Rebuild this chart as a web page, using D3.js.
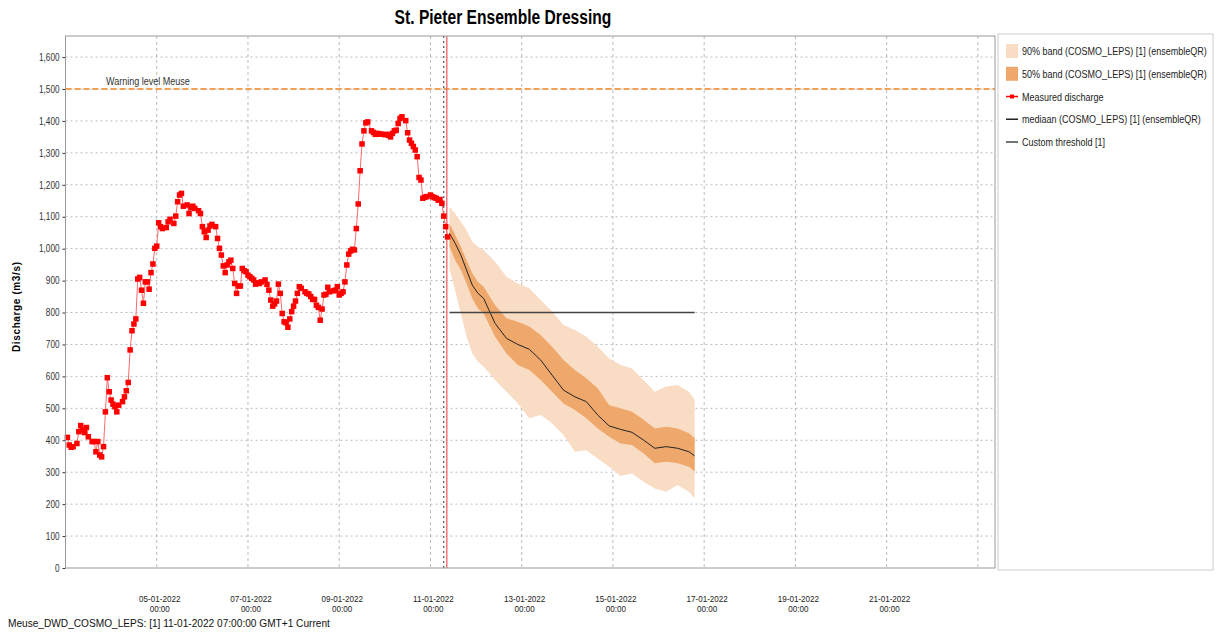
<!DOCTYPE html>
<html>
<head>
<meta charset="utf-8">
<title>St. Pieter Ensemble Dressing</title>
<script src="https://d3js.org/d3.v7.min.js"></script>
<style>
  body { margin: 0; background: #fff; }
  text { font-family: "Liberation Sans", Arial, sans-serif; }
</style>
</head>
<body>
<div id="chart"></div>
<script>

// hours after 03-01-2022 00:00
const measuredHours = [1,2,3,4,6,7,8,9,10,11,12,14,15,16,17,18,19,20,21,22,23,24,25,26,27,28,30,31,32,33,34,35,36,37,38,39,40,41,42,43,44,45,46,47,48,
  49,50,51,53,54,55,57,58,59,60,61,62,64,65,66,67,68,70,71,72,73,74,75,76,77,79,80,81,82,83,84,85,86,87,88,89,90,91,92,93,94,95,96,97,98,99,100,
  101,102,103,105,106,107,108,109,110,111,112,113,114,115,116,117,118,119,120,121,122,123,124,126,127,128,129,130,131,132,133,134,135,136,137,138,139,141,142,143,144,145,146,147,148,149,150,151,152,
  153,154,155,156,157,158,159,161,162,163,164,165,166,168,169,170,171,172,173,174,175,176,177,179,180,181,182,183,184,185,186,187,188,189,190,192,193,194,195,196,197,198,199,200,201];
const measuredValues = [409,385,378,380,390,427,446,432,424,440,411,396,396,364,396,354,348,380,489,596,552,526,513,505,489,510,521,536,555,581,683,743,764,780,905,910,870,829,896,896,873,925,952,1001,1008,
  1081,1069,1063,1066,1084,1092,1079,1102,1147,1168,1173,1133,1137,1110,1128,1133,1126,1119,1110,1069,1053,1035,1058,1071,1076,1069,1032,1001,980,946,925,949,959,964,938,891,860,883,883,938,931,928,917,912,907,902,889,
  893,891,896,902,888,870,839,820,827,836,889,860,797,771,768,754,780,803,820,836,860,881,876,865,860,858,850,841,841,823,816,776,811,855,857,879,865,868,870,881,855,860,865,896,949,983,993,998,996,
  1063,1140,1244,1328,1369,1394,1397,1369,1364,1358,1361,1359,1359,1357,1358,1355,1350,1361,1369,1371,1392,1408,1413,1401,1363,1340,1330,1320,1309,1288,1223,1215,1158,1161,1163,1168,1163,1160,1158,1152,1154,1142,1102,1069,1037];

const forecastHours = [202,205,208,211,214,217,220,226,232,238,244,250,256,262,268,274,280,286,292,298,304,310,316,322,328,331];
const median  = [1048,1017,980,933,886,860,844,766,719,700,685,651,604,557,536,521,479,445,434,425,401,375,380,375,364,351];
const band50Hi = [1079,1043,1006,964,923,896,881,823,782,771,756,730,693,651,620,594,563,510,500,489,465,437,442,437,422,406];
const band50Lo = [1006,964,933,891,844,813,797,724,672,636,620,589,552,515,495,469,437,411,390,385,359,328,333,328,317,302];
const band90Hi = [1131,1110,1084,1058,1022,1006,996,959,912,891,876,839,803,761,745,724,693,656,636,625,589,552,568,573,552,526];
const band90Lo = [938,870,797,724,672,646,630,589,552,515,469,479,453,416,364,369,343,317,288,296,270,249,239,260,239,218];

const yTicks = [0,100,200,300,400,500,600,700,800,900,1000,1100,1200,1300,1400,1500,1600];
const warningLevel = 1500;
const customThreshold = 800;
const forecastT0 = 199;     // 11-01-2022 07:00
const systemTime = 200.6;

const legendItems = [
  {label: "90% band (COSMO_LEPS) [1]  (ensembleQR)", type: "box", color: "#f9dcc4"},
  {label: "50% band (COSMO_LEPS) [1]  (ensembleQR)", type: "box", color: "#efa86c"},
  {label: "Measured discharge", type: "marker", color: "#ff0000"},
  {label: "mediaan (COSMO_LEPS) [1]  (ensembleQR)", type: "line", color: "#222"},
  {label: "Custom threshold [1]", type: "line", color: "#444"}
];

const width = 1219;
const height = 634;
const plotLeft = 65.5, plotRight = 995, plotTop = 36, plotBottom = 568;

const start = Date.UTC(2022, 0, 3);
const toDate = h => new Date(start + h * 3600e3);

// squeeze text horizontally, the original uses a narrow font
function narrow(sel, f) {
  sel.each(function() {
    var w = this.getComputedTextLength();
    d3.select(this).attr("textLength", w * f).attr("lengthAdjust", "spacingAndGlyphs");
  });
}

var svg = d3.select("#chart").append("svg").attr("width", width).attr("height", height);

var x = d3.scaleUtc().domain([toDate(0), new Date(Date.UTC(2022, 0, 23, 9))]).range([plotLeft, plotRight]);
var y = d3.scaleLinear().domain([0, 1666]).range([plotBottom, plotTop]);

// title
svg.append("text").attr("x", 503).attr("y", 24).attr("text-anchor", "middle")
  .style("font-size", "20px").style("font-weight", "bold").text("St. Pieter Ensemble Dressing")
  .call(narrow, 0.78);

// grid
var dayTicks = x.ticks(d3.utcDay.every(2));
svg.append("g").selectAll("line").data(yTicks.slice(1)).enter().append("line")
  .attr("x1", plotLeft).attr("x2", plotRight).attr("y1", d => y(d)).attr("y2", d => y(d))
  .attr("stroke", "#bbb").attr("stroke-dasharray", "2,3");
svg.append("g").selectAll("line").data(dayTicks.filter(d => x(d) > plotLeft + 1)).enter().append("line")
  .attr("x1", d => x(d)).attr("x2", d => x(d)).attr("y1", plotTop).attr("y2", plotBottom)
  .attr("stroke", "#bbb").attr("stroke-dasharray", "3,3");

// y axis
var yAxis = svg.append("g").attr("transform", "translate(" + plotLeft + ",0)")
  .call(d3.axisLeft(y).tickValues(yTicks).tickSize(3).tickFormat(d3.format(",")));
yAxis.select(".domain").remove();
yAxis.selectAll("text").style("font-size", "10px").attr("fill", "#333").call(narrow, 0.82);
yAxis.selectAll("line").attr("stroke", "#333");

svg.append("text").attr("transform", "translate(20,307) rotate(-90)").attr("text-anchor", "middle")
  .style("font-size", "10px").style("font-weight", "bold")
  .attr("textLength", 90).attr("lengthAdjust", "spacing").text("Discharge (m3/s)");

// x labels
var xl = svg.append("g").selectAll("g").data(dayTicks.filter(d => x(d) > plotLeft + 1 && x(d) < 950)).enter().append("g")
  .attr("transform", d => "translate(" + (x(d) + 3) + ",0)");
xl.append("text").attr("y", 602).attr("text-anchor", "middle").style("font-size", "9.5px").attr("fill", "#222")
  .text(d => d3.utcFormat("%d-%m-%Y")(d));
xl.append("text").attr("y", 612).attr("text-anchor", "middle").style("font-size", "9.5px").attr("fill", "#222")
  .text(d => d3.utcFormat("%H:%M")(d));
xl.selectAll("text").call(narrow, 0.85);

// forecast bands
var fc = forecastHours.map((h, i) => ({t: toDate(h), m: median[i], a: band90Lo[i], b: band90Hi[i], c: band50Lo[i], d: band50Hi[i]}));
svg.append("path").datum(fc).attr("fill", "#f9dcc4")
  .attr("d", d3.area().x(d => x(d.t)).y0(d => y(d.a)).y1(d => y(d.b)));
svg.append("path").datum(fc).attr("fill", "#efa86c")
  .attr("d", d3.area().x(d => x(d.t)).y0(d => y(d.c)).y1(d => y(d.d)));
svg.append("path").datum(fc).attr("fill", "none").attr("stroke", "#222").attr("stroke-width", 1)
  .attr("d", d3.line().x(d => x(d.t)).y(d => y(d.m)));

// custom threshold
svg.append("line").attr("x1", x(toDate(forecastHours[0]))).attr("x2", x(toDate(forecastHours[forecastHours.length - 1])))
  .attr("y1", y(customThreshold)).attr("y2", y(customThreshold)).attr("stroke", "#444").attr("stroke-width", 1.5);

// warning level
svg.append("line").attr("x1", plotLeft).attr("x2", plotRight).attr("y1", y(warningLevel)).attr("y2", y(warningLevel))
  .attr("stroke", "#f2a055").attr("stroke-width", 2).attr("stroke-dasharray", "6,3");
svg.append("text").attr("x", 106).attr("y", y(warningLevel) - 4).style("font-size", "10px").attr("fill", "#333")
  .text("Warning level Meuse").call(narrow, 0.9);

// T0 and system time
svg.append("line").attr("x1", x(toDate(forecastT0))).attr("x2", x(toDate(forecastT0))).attr("y1", plotTop).attr("y2", plotBottom)
  .attr("stroke", "#333").attr("stroke-dasharray", "2,3");
svg.append("line").attr("x1", x(toDate(systemTime))).attr("x2", x(toDate(systemTime))).attr("y1", plotTop).attr("y2", plotBottom)
  .attr("stroke", "#f07878").attr("stroke-width", 1.5);

// measured
var meas = measuredHours.map((h, i) => ({t: toDate(h), v: measuredValues[i]}));
svg.append("path").datum(meas).attr("fill", "none").attr("stroke", "#ff6a6a").attr("stroke-width", 1)
  .attr("d", d3.line().x(d => x(d.t)).y(d => y(d.v)));
svg.append("g").selectAll("rect").data(meas).enter().append("rect")
  .attr("x", d => x(d.t) - 2.75).attr("y", d => y(d.v) - 2.75).attr("width", 5.5).attr("height", 5.5).attr("fill", "#ff0000");

// frame
svg.append("rect").attr("x", plotLeft).attr("y", plotTop).attr("width", plotRight - plotLeft).attr("height", plotBottom - plotTop)
  .attr("fill", "none").attr("stroke", "#999");

// legend
svg.append("rect").attr("x", 998).attr("y", 34).attr("width", 215).attr("height", 536)
  .attr("fill", "none").attr("stroke", "#ccc");
var lg = svg.append("g").selectAll("g").data(legendItems).enter().append("g")
  .attr("transform", (d, i) => "translate(1006," + (51 + i * 22.75) + ")");
lg.filter(d => d.type == "box").append("rect").attr("x", 0).attr("y", -7).attr("width", 12).attr("height", 14).attr("fill", d => d.color);
lg.filter(d => d.type != "box").append("line").attr("x1", 0).attr("x2", 12).attr("stroke", d => d.color).attr("stroke-width", 1.5);
lg.filter(d => d.type == "marker").append("rect").attr("x", 4).attr("y", -2).attr("width", 4).attr("height", 4).attr("fill", d => d.color);
lg.append("text").attr("transform", "translate(16,4) scale(0.82,1)").style("font-size", "11px").attr("fill", "#222")
  .text(d => d.label);

// footer
svg.append("text").attr("x", 8).attr("y", 627).style("font-size", "11px").attr("fill", "#111")
  .text("Meuse_DWD_COSMO_LEPS: [1] 11-01-2022 07:00:00 GMT+1 Current").call(narrow, 0.92);

</script>
</body>
</html>
